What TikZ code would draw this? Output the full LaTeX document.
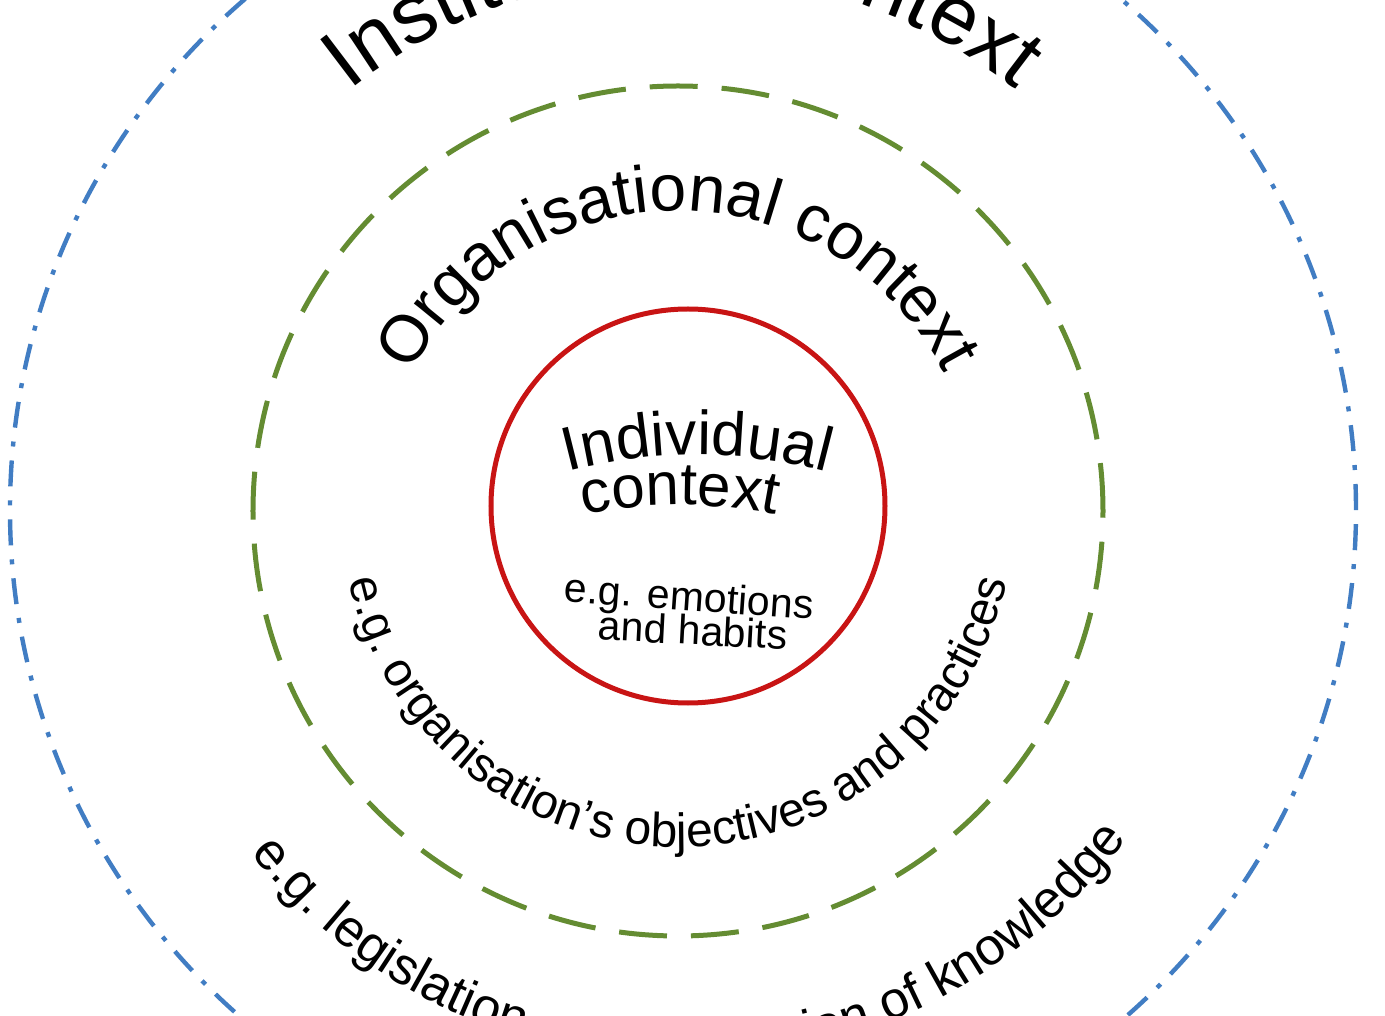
\documentclass[tikz,border=0pt]{standalone}
\usepackage{fontspec}
\setmainfont{Liberation Sans}
\usetikzlibrary{decorations.text}
\definecolor{cblue}{RGB}{65,125,195}
\definecolor{cgreen}{RGB}{100,140,50}
\definecolor{cred}{RGB}{200,20,20}
\tikzset{
 arctext/.style={decorate,decoration={text along path,text align=center,text={#1}}}
}
\begin{document}
\begin{tikzpicture}
\useasboundingbox (-341.5pt,-253pt) rectangle (351pt,255pt);
\clip (-341.5pt,-253pt) rectangle (351pt,255pt);
\draw[cblue,line width=2.2pt,dash pattern=on 13pt off 7pt on 2.5pt off 7pt] (0,0) circle[radius=336.5pt];
\draw[cgreen,line width=2.5pt,dash pattern=on 24pt off 12pt] (-2.5pt,-0.5pt) circle[radius=212.5pt];
\draw[cred,line width=2.5pt] (2.5pt,2pt) circle[radius=98.5pt];
\path[arctext={|\fontsize{42}{46}\selectfont|Institutional context}] (140:268pt) arc[start angle=140,end angle=40,radius=268pt];
\path[arctext={|\fontsize{26}{29}\selectfont|e.g. legislation and production of knowledge}] (210:276pt) arc[start angle=210,end angle=332,radius=276pt];
\path[arctext={|\fontsize{33}{36}\selectfont|Organisational context}] ([shift={(-2.5pt,-0.5pt)}]168:150pt) arc[start angle=168,end angle=12,radius=150pt];
\path[arctext={|\fontsize{24}{27}\selectfont|e.g. organisation's objectives and practices}] ([shift={(-2.5pt,-0.5pt)}]172:168pt) arc[start angle=172,end angle=368,radius=168pt];
\path[arctext={|\fontsize{31}{33}\selectfont|Individual}] ([shift={(7pt,-222.5pt)}]113:250pt) arc[start angle=113,end angle=67,radius=250pt];
\path[arctext={|\fontsize{30}{32}\selectfont|context}] ([shift={(-1.5pt,-247.5pt)}]107:250pt) arc[start angle=107,end angle=73,radius=250pt];
\node[font=\fontsize{20.5}{22}\selectfont,rotate=-4] (em) at (3pt,-45pt) {e.g. emotions};
\node[font=\fontsize{20.5}{22}\selectfont,rotate=-3] (hb) at (5pt,-60pt) {and habits};
\end{tikzpicture}
\end{document}
